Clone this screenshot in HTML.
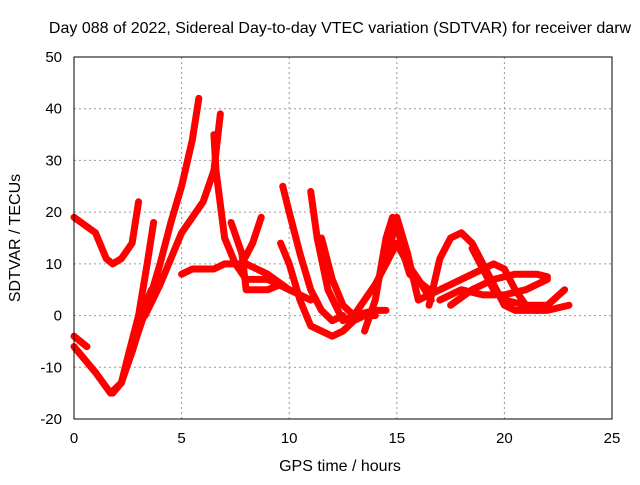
<!DOCTYPE html>
<html><head><meta charset="utf-8"><style>
body{margin:0;background:#fff}
svg text{font-family:"Liberation Sans",sans-serif;font-size:15px;fill:#000}
svg text.big{font-size:16px}
</style></head><body>
<svg width="640" height="480" xmlns="http://www.w3.org/2000/svg">
<rect width="640" height="480" fill="#fff"/>
<g id="grid"></g>
<g id="series"></g>
<rect x="74" y="57" width="538" height="362" fill="none" stroke="#000" stroke-width="1"/>
<g id="ticks"></g>
<text class="big" x="340" y="33" text-anchor="middle">Day 088 of 2022, Sidereal Day-to-day VTEC variation (SDTVAR) for receiver darw</text>
<text class="big" x="340" y="471" text-anchor="middle">GPS time / hours</text>
<text class="big" x="20" y="238" text-anchor="middle" transform="rotate(-90 20 238)">SDTVAR / TECUs</text>
</svg>
<script>
const xTicks=[0,5,10,15,20,25];
const yTicks=[-20,-10,0,10,20,30,40,50];
const tracks=[
[[0,19],[1,16],[1.5,11],[1.8,10],[2.2,11],[2.7,14],[3,22]],
[[0,-4],[0.6,-6]],
[[0,-6],[1,-11],[1.7,-15],[2.2,-13],[2.7,-7],[3,-3],[3.3,2],[3.6,5]],
[[1.8,-15],[2.2,-13],[2.5,-8],[3,0],[3.4,10],[3.7,18]],
[[3,-3],[3.5,3],[4,10],[4.5,18],[5,25],[5.5,34],[5.8,42]],
[[3.3,0],[4,6],[4.5,11],[5,16],[5.5,19],[6,22],[6.5,28],[6.8,39]],
[[5,8],[5.5,9],[6,9],[6.5,9],[7,10],[7.5,10],[8,10],[9,8],[10,5],[11,3]],
[[6.5,35],[6.6,28],[7,15],[7.5,10],[8,7],[9,7],[10,5]],
[[7.3,18],[7.8,12],[8,5],[9,5],[9.6,6]],
[[7.8,10],[8.3,14],[8.7,19]],
[[9.7,25],[10,20],[10.5,12],[11,5],[11.5,1],[12,-1],[12.5,0]],
[[9.6,14],[10,10],[10.5,3],[11,-2],[11.5,-3],[12,-4],[12.5,-3],[13,-1],[13.5,0],[14,0]],
[[11,24],[11.3,15],[11.8,5],[12.5,-1],[13,0],[14,1],[14.5,1]],
[[11.5,15],[12,7],[12.5,2],[13,0]],
[[13.5,-3],[14,3],[14.5,15],[14.8,19],[15,18],[15.3,12],[15.6,8],[16.5,5]],
[[13,0],[14,6],[15,14],[15.5,10],[16,7],[16.6,3]],
[[14.5,10],[15,19],[15.5,12],[16,3],[16.5,4]],
[[16.5,2],[17,11],[17.5,15],[18,16],[18.5,14],[19,10],[19.5,6],[20,2],[20.5,1],[21,1],[22,1],[23,2]],
[[17.5,2],[18.5,5],[19.5,7],[20.5,8],[21.5,8],[22,7.5]],
[[18.5,13],[19,9],[19.5,5],[20,3],[21,2],[22,2],[22.8,5]],
[[16.5,4],[17.5,6],[18.5,8],[19.5,10],[20,9],[20.5,5],[21,2],[21.5,1]],
[[17,3],[18,5],[19,4],[20,4],[21,5],[22,7]]
];
const NS='http://www.w3.org/2000/svg';
const X=v=>74+v*(538/25);
const Y=v=>419-(v+20)*(362/70);
const grid=document.getElementById('grid'),ticks=document.getElementById('ticks'),ser=document.getElementById('series');
function mk(t,a,p){const e=document.createElementNS(NS,t);for(const k in a)e.setAttribute(k,a[k]);p.appendChild(e);return e;}
xTicks.forEach(v=>{
 if(v>0&&v<25){const g=mk('line',{x1:X(v),x2:X(v),y1:57,y2:419,stroke:'#999','stroke-dasharray':'2,3','stroke-width':1},grid);
 
 }
 const t=mk('text',{x:X(v),y:443,'text-anchor':'middle'},ticks);t.textContent=v;
 
 
});
yTicks.forEach(v=>{
 if(v>-20&&v<50){const g=mk('line',{x1:74,x2:612,y1:Y(v),y2:Y(v),stroke:'#999','stroke-dasharray':'2,3','stroke-width':1},grid);
 
 }
 const t=mk('text',{x:62,y:Y(v)+5,'text-anchor':'end'},ticks);t.textContent=v;
 
 
});
tracks.forEach((tr,i)=>{
 const p=mk('polyline',{points:tr.map(d=>X(d[0])+','+Y(d[1])).join(' '),fill:'none',stroke:'#f00','stroke-width':7,'stroke-linejoin':'round','stroke-linecap':'round'},ser);
 
 
});
</script>
</body></html>
